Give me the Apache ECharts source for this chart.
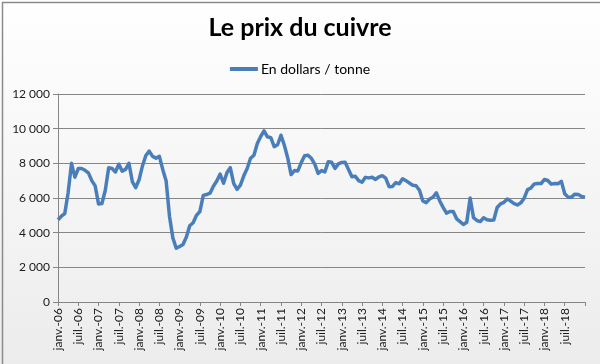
<!DOCTYPE html>
<html>
<head>
<meta charset="utf-8">
<script src="https://cdn.jsdelivr.net/npm/echarts@6/dist/echarts.min.js"></script>
<style>
html,body{margin:0;padding:0;background:#fff;}
#c{width:600px;height:364px;}
</style>
</head>
<body>
<div id="c"></div>
<script>
// Monthly categories janv.-06 ... janv.-19
const monthNames = ['janv.','févr.','mars','avr.','mai','juin','juil.','août','sept.','oct.','nov.','déc.'];
const years = ['06','07','08','09','10','11','12','13','14','15','16','17','18','19'];
const categories = [];
years.forEach(function (y) { monthNames.forEach(function (m) { categories.push(m + '-' + y); }); });
categories.length = 157;

// Copper price, USD per tonne
const v2006 = [4750, 4950, 5100, 6300, 8000, 7200, 7700, 7700, 7600, 7450, 7000, 6700];
const v2007 = [5660, 5680, 6450, 7750, 7700, 7500, 7950, 7550, 7650, 8000, 6950, 6600];
const v2008 = [7050, 7850, 8450, 8700, 8400, 8300, 8400, 7650, 7000, 4950, 3700, 3100];
const v2009 = [3200, 3320, 3750, 4400, 4570, 5000, 5220, 6150, 6200, 6280, 6680, 6980];
const v2010 = [7380, 6850, 7460, 7750, 6840, 6500, 6740, 7280, 7700, 8290, 8470, 9150];
const v2011 = [9550, 9870, 9530, 9480, 8960, 9070, 9620, 9040, 8310, 7350, 7580, 7560];
const v2012 = [8040, 8440, 8470, 8290, 7950, 7420, 7580, 7510, 8090, 8060, 7710, 7970];
const v2013 = [8050, 8060, 7650, 7230, 7250, 7000, 6910, 7190, 7160, 7200, 7070, 7220];
const v2014 = [7290, 7150, 6650, 6670, 6890, 6820, 7110, 7000, 6870, 6740, 6710, 6450];
const v2015 = [5830, 5730, 5940, 6040, 6300, 5830, 5460, 5130, 5220, 5220, 4800, 4640];
const v2016 = [4470, 4600, 6000, 4870, 4700, 4640, 4860, 4750, 4720, 4730, 5450, 5660];
const v2017 = [5750, 5940, 5820, 5680, 5600, 5720, 5990, 6480, 6580, 6810, 6830, 6830];
const v2018 = [7070, 7010, 6800, 6840, 6820, 6960, 6250, 6050, 6050, 6220, 6200, 6090];
const v2019 = [6050];
const prices = [].concat(v2006, v2007, v2008, v2009, v2010, v2011, v2012, v2013,
                         v2014, v2015, v2016, v2017, v2018, v2019);

const seriesName = 'En dollars / tonne';
const titleText = 'Le prix du cuivre';
const yTicks = [0, 2000, 4000, 6000, 8000, 10000, 12000];

const chart = echarts.init(document.getElementById('c'), null, {renderer: 'canvas'});
const FONT = 'Lato, "Open Sans", sans-serif';
chart.setOption({
  backgroundColor: new echarts.graphic.LinearGradient(0, 0, 0, 1, [
    {offset: 0, color: '#ffffff'}, {offset: 1, color: '#ececec'}
  ]),
  animation: false,
  graphic: [{
    type: 'rect', left: 0, top: 0, z: 100, silent: true,
    shape: {x: 0.5, y: 0.5, width: 599, height: 363},
    style: {fill: 'none', stroke: '#8a8a8a', lineWidth: 1.5}
  }],
  title: {
    text: titleText, left: 'center', top: 10,
    textStyle: {fontFamily: FONT, fontWeight: 'bold', fontSize: 25, color: '#000'}
  },
  legend: {
    data: [seriesName], top: 57, left: 'center',
    icon: 'rect', itemWidth: 28, itemHeight: 4, itemGap: 4,
    textStyle: {fontFamily: FONT, fontSize: 14, color: '#000', padding: [0, 0, 0, -2]}
  },
  grid: {left: 58, right: 15, top: 94, bottom: 62, containLabel: false},
  xAxis: {
    type: 'category', data: categories, boundaryGap: false,
    axisLine: {lineStyle: {color: '#868686', width: 1}},
    axisTick: {show: true, interval: 5, length: 4, lineStyle: {color: '#868686'}},
    axisLabel: {
      rotate: 90, margin: 6, fontFamily: FONT, fontSize: 12, color: '#1a1a1a',
      interval: function (idx) { return idx % 6 === 0 && idx < 156; }
    },
    splitLine: {show: false}
  },
  yAxis: {
    type: 'value', min: 0, max: 12000, interval: 2000,
    axisLine: {show: true, lineStyle: {color: '#868686', width: 1}},
    axisTick: {show: true, length: 5, lineStyle: {color: '#868686'}},
    axisLabel: {
      margin: 8, fontFamily: FONT, fontSize: 12, color: '#1a1a1a',
      formatter: function (v) { return yTicks.indexOf(v) >= 0 ? String(v).replace(/\B(?=(\d{3})+(?!\d))/g, ' ') : ''; }
    },
    splitLine: {show: true, lineStyle: {color: '#868686', width: 1}}
  },
  series: [{
    name: seriesName, type: 'line', data: prices,
    showSymbol: false, symbol: 'none',
    lineStyle: {color: '#4a7ebb', width: 3.5, join: 'round'},
    itemStyle: {color: '#4a7ebb'}
  }]
});
</script>
</body>
</html>
